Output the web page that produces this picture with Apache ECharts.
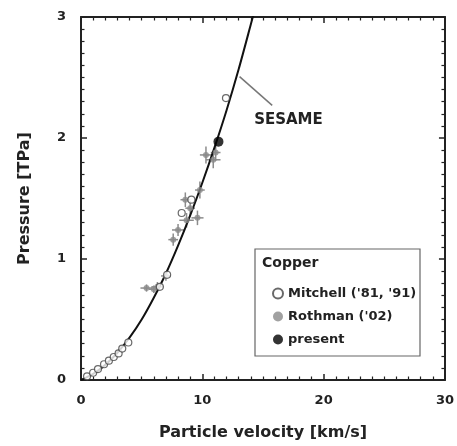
<!DOCTYPE html>
<html>
<head>
<meta charset="utf-8">
<script src="https://cdn.jsdelivr.net/npm/echarts@6/dist/echarts.min.js"></script>
<style>
    html, body { margin: 0; padding: 0; background: #fff; }
    #chart { width: 457px; height: 446px; }
</style>
</head>
<body>
<div id="chart"></div>
<script>
// SESAME Hugoniot: [particle velocity km/s, pressure TPa]
var sesameCurve = [
    [0, 0], [1, 0.05], [2, 0.125], [3, 0.225], [4, 0.35], [5, 0.50],
    [6, 0.68], [7, 0.88], [8, 1.11], [9, 1.36], [10, 1.63], [11, 1.92],
    [12, 2.23], [13, 2.57], [14, 2.94], [14.5, 3.13]
];
// Mitchell ('81, '91) open circles
var mitchellData = [
    [0.5, 0.03], [1.0, 0.06], [1.4, 0.09], [1.9, 0.13], [2.3, 0.16],
    [2.7, 0.19], [3.1, 0.22], [3.4, 0.26], [3.9, 0.31],
    [6.5, 0.77], [7.1, 0.87], [8.3, 1.38], [9.1, 1.49], [11.95, 2.33]
];
// Rothman ('02): [up, P, up error, P error]
var rothmanData = [
    [5.4, 0.76, 0.5, 0.03], [6.0, 0.75, 0.4, 0.03], [6.3, 0.77, 0.5, 0.04],
    [7.0, 0.86, 0.4, 0.04], [7.6, 1.16, 0.4, 0.05], [8.0, 1.24, 0.5, 0.05],
    [8.7, 1.32, 0.6, 0.06], [9.0, 1.42, 0.4, 0.06], [9.6, 1.34, 0.5, 0.06],
    [8.6, 1.49, 0.4, 0.06], [9.8, 1.57, 0.4, 0.07], [10.3, 1.86, 0.5, 0.07],
    [10.9, 1.82, 0.6, 0.07], [11.1, 1.88, 0.4, 0.07]
];
// present work
var presentData = [[11.33, 1.97]];
var xTicks = [0, 10, 20, 30];
var yTicks = [0, 1, 2, 3];

var chart = echarts.init(document.getElementById('chart'));
var font = 'DejaVu Sans, sans-serif';
var ink = '#222';

function makeAxis(type, pos, show) {
    return {
        type: 'value',
        position: pos,
        min: 0,
        max: type === 'x' ? xTicks[xTicks.length - 1] : yTicks[yTicks.length - 1],
        interval: type === 'x' ? 10 : 1,
        axisLine: { show: true, onZero: false, lineStyle: { color: ink, width: 2 } },
        axisTick: { show: true, inside: true, length: 6, lineStyle: { color: ink, width: 1.5 } },
        minorTick: { show: true, splitNumber: 10, length: 3.5, lineStyle: { color: ink, width: 1.2 } },
        splitLine: { show: false },
        axisLabel: {
            show: show,
            color: ink,
            fontFamily: font,
            fontWeight: 'bold',
            fontSize: 13,
            margin: type === 'x' ? 14 : 15
        }
    };
}

var xMain = makeAxis('x', 'bottom', true);
xMain.name = 'Particle velocity [km/s]';
xMain.nameLocation = 'middle';
xMain.nameGap = 45;
xMain.nameTextStyle = { color: ink, fontFamily: font, fontWeight: 'bold', fontSize: 16 };

var yMain = makeAxis('y', 'left', true);
yMain.name = 'Pressure [TPa]';
yMain.nameLocation = 'middle';
yMain.nameGap = 48;
yMain.nameTextStyle = { color: ink, fontFamily: font, fontWeight: 'bold', fontSize: 16 };

var option = {
    animation: false,
    backgroundColor: '#fff',
    grid: { left: 81, right: 10, top: 17, bottom: 66 },
    xAxis: [xMain, makeAxis('x', 'top', false)],
    yAxis: [yMain, makeAxis('y', 'right', false)],
    legend: {
        orient: 'vertical',
        left: 267,
        top: 282,
        itemGap: 10,
        itemWidth: 10,
        itemHeight: 10,
        textStyle: { color: ink, fontFamily: font, fontWeight: 'bold', fontSize: 13 },
        data: [
            { name: "Mitchell ('81, '91)", icon: 'circle' },
            { name: "Rothman ('02)", icon: 'circle' },
            { name: 'present', icon: 'circle' }
        ]
    },
    series: [
        {
            name: 'SESAME',
            type: 'line',
            data: sesameCurve,
            smooth: 0.3,
            symbol: 'none',
            lineStyle: { color: '#111', width: 2 },
            clip: true,
            z: 3
        },
        {
            name: 'rothmanErr',
            type: 'custom',
            data: rothmanData,
            z: 2,
            renderItem: function (params, api) {
                var x = api.value(0), y = api.value(1), ex = api.value(2), ey = api.value(3);
                var l = api.coord([x - ex, y]), r = api.coord([x + ex, y]);
                var t = api.coord([x, y + ey]), b = api.coord([x, y - ey]);
                var st = { stroke: '#8c8c8c', lineWidth: 1.5 };
                return {
                    type: 'group',
                    children: [
                        { type: 'line', shape: { x1: l[0], y1: l[1], x2: r[0], y2: r[1] }, style: st },
                        { type: 'line', shape: { x1: t[0], y1: t[1], x2: b[0], y2: b[1] }, style: st }
                    ]
                };
            }
        },
        {
            name: "Rothman ('02)",
            type: 'scatter',
            data: rothmanData.map(function (d) { return [d[0], d[1]]; }),
            symbol: 'circle',
            symbolSize: 6,
            itemStyle: { color: '#8a8a8a' },
            z: 4
        },
        {
            name: "Mitchell ('81, '91)",
            type: 'scatter',
            data: mitchellData,
            symbol: 'circle',
            symbolSize: 7,
            itemStyle: { color: '#fff', borderColor: '#444', borderWidth: 1.2 },
            z: 5
        },
        {
            name: 'present',
            type: 'scatter',
            data: presentData,
            symbol: 'circle',
            symbolSize: 10,
            itemStyle: { color: '#000' },
            z: 6
        }
    ]
};
chart.setOption(option);

// legend box + annotation placed from data coords
function px(p) { return chart.convertToPixel({ gridIndex: 0 }, p); }
var a = px([13.07, 2.507]), b = px([15.76, 2.27]), lbl = px([17.1, 2.15]);
chart.setOption({
    graphic: [
        {
            type: 'rect',
            shape: { x: 255, y: 249, width: 165, height: 107 },
            style: { fill: 'none', stroke: '#666', lineWidth: 1.2 },
            z: 10
        },
        {
            type: 'text',
            x: 262, y: 256,
            style: { text: 'Copper', fill: ink, font: 'bold 14px ' + font },
            z: 10
        },
        {
            type: 'line',
            shape: { x1: a[0], y1: a[1], x2: b[0], y2: b[1] },
            style: { stroke: '#777', lineWidth: 1.5 },
            z: 10
        },
        {
            type: 'text',
            x: lbl[0], y: lbl[1],
            style: { text: 'SESAME', fill: ink, font: 'bold 15px ' + font, align: 'center', verticalAlign: 'middle' },
            z: 10
        }
    ]
});
</script>
</body>
</html>
